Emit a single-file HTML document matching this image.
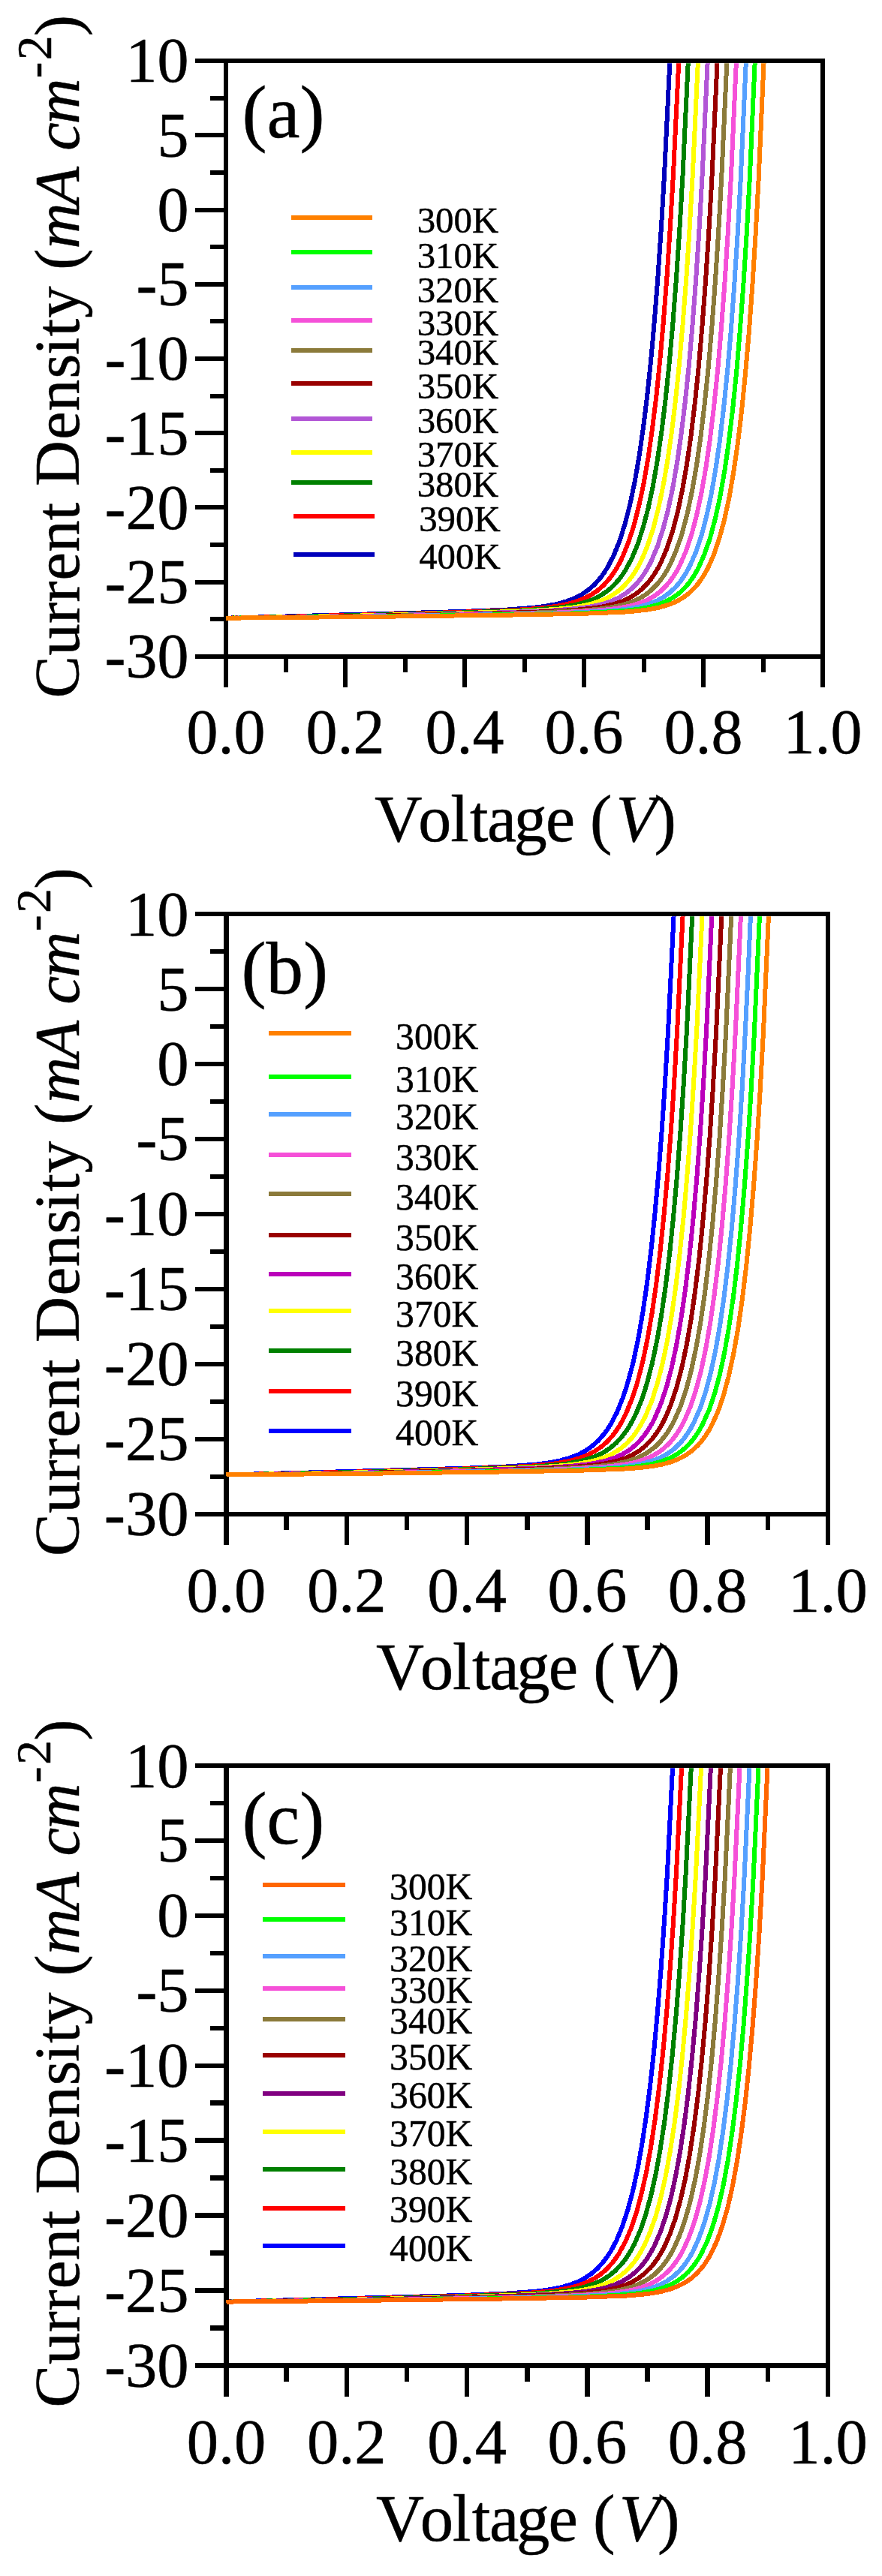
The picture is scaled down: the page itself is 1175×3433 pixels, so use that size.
<!DOCTYPE html>
<html><head><meta charset="utf-8"><style>
html,body{margin:0;padding:0;background:#fff;}
svg{display:block;}
text{font-family:"Liberation Serif", serif;fill:#000;stroke:#000;stroke-width:0.5px;stroke-linejoin:round;}
</style></head><body>
<svg width="1175" height="3433" viewBox="0 0 1175 3433">
<rect width="1175" height="3433" fill="#fff"/>
<path d="M260.02 81.20H1096.00V915.88M301.00 81.20V915.88M260.02 874.90H1096.00M260.02 180.41H301.00M260.02 279.62H301.00M260.02 378.84H301.00M260.02 478.05H301.00M260.02 577.26H301.00M260.02 676.48H301.00M260.02 775.69H301.00M280.01 130.81H301.00M280.01 230.02H301.00M280.01 329.23H301.00M280.01 428.44H301.00M280.01 527.66H301.00M280.01 626.87H301.00M280.01 726.08H301.00M280.01 825.29H301.00M460.00 874.90V915.88M619.00 874.90V915.88M778.00 874.90V915.88M937.00 874.90V915.88M380.50 874.90V895.89M539.50 874.90V895.89M698.50 874.90V895.89M857.50 874.90V895.89M1016.50 874.90V895.89" fill="none" stroke="#000" stroke-width="6.0" shape-rendering="crispEdges"/>
<clipPath id="clipa"><rect x="298.00" y="84.20" width="795.00" height="793.70"/></clipPath>
<g clip-path="url(#clipa)" fill="none" stroke-width="6" stroke-linejoin="round" stroke-linecap="butt" shape-rendering="crispEdges">
<path d="M301.0,823.7 619.0,814.9 675.4,812.6 711.2,809.8 727.9,807.6 742.0,804.9 754.2,801.5 765.3,797.3 775.2,792.1 784.0,786.0 792.3,778.7 799.9,770.1 804.6,763.6 809.2,756.4 817.6,740.2 825.4,720.9 832.6,698.3 839.3,672.1 845.6,642.3 851.5,607.9 857.0,569.8 862.3,526.7 867.3,478.6 872.0,425.8 876.6,366.9 881.0,301.8 885.1,231.6 892.9,71.3" stroke="#0000BB"/>
<path d="M301.0,823.7 481.6,819.5 608.3,816.0 680.9,813.2 703.9,811.9 722.5,810.3 739.1,808.2 753.6,805.5 765.8,802.3 777.0,798.1 787.1,793.0 796.0,787.0 804.2,779.8 811.6,771.5 816.3,765.2 821.0,758.0 825.4,750.2 829.6,741.6 837.4,722.2 844.5,700.1 851.2,674.3 857.5,644.4 863.4,610.6 868.9,572.4 874.2,529.5 879.2,480.5 884.0,426.9 888.6,367.4 892.9,301.8 897.0,231.6 904.8,71.3" stroke="#FF0000"/>
<path d="M301.0,823.7 473.2,820.2 598.7,817.1 686.8,813.9 713.6,812.4 734.3,810.8 751.3,808.8 765.6,806.3 778.0,803.1 789.2,799.1 799.3,794.1 808.4,788.2 816.4,781.3 824.0,773.0 828.6,767.0 833.2,760.0 841.7,744.1 849.5,725.4 856.8,702.8 863.7,676.6 870.0,647.0 875.9,612.9 881.4,574.8 886.7,531.4 891.8,482.4 896.5,429.6 901.0,370.8 905.4,305.1 909.5,234.2 917.3,71.3" stroke="#008000"/>
<path d="M301.0,823.7 475.6,820.6 605.0,817.6 695.4,814.5 724.7,813.0 746.5,811.4 763.7,809.4 778.3,807.0 790.8,803.9 802.0,800.1 812.0,795.4 821.2,789.5 829.3,782.8 836.9,774.7 841.8,768.5 846.4,761.5 850.8,754.0 855.0,745.7 863.0,726.5 870.2,704.4 876.9,678.5 883.3,648.4 889.2,614.7 894.7,576.7 900.0,533.3 905.0,484.3 909.8,429.6 914.3,371.1 918.6,305.1 922.7,234.2 930.4,71.3" stroke="#FFFF00"/>
<path d="M301.0,823.7 483.8,820.8 618.9,817.9 704.8,815.1 735.7,813.5 758.6,811.9 776.3,810.0 790.9,807.7 803.6,804.7 814.7,801.0 824.8,796.3 833.6,790.9 842.0,784.1 849.6,776.2 854.4,770.1 859.1,763.1 863.6,755.6 867.8,747.3 875.8,728.3 883.1,705.9 889.8,680.4 896.2,650.4 902.1,616.3 907.5,578.6 912.8,535.2 917.9,486.2 922.6,432.1 927.1,373.0 931.4,307.0 935.5,235.3 943.2,71.3" stroke="#B256D6"/>
<path d="M301.0,823.7 492.9,820.9 634.4,818.2 714.2,815.7 746.5,814.1 770.5,812.5 788.4,810.7 803.3,808.4 816.2,805.5 827.4,801.9 837.5,797.4 846.6,791.9 854.9,785.4 862.5,777.6 867.3,771.5 872.2,764.5 876.5,757.2 880.8,748.9 888.6,730.5 895.8,708.7 902.6,683.2 908.9,653.6 914.8,620.1 920.5,581.1 925.7,537.5 930.7,489.4 935.4,435.3 940.0,374.9 944.3,308.9 948.4,237.2 956.1,71.3" stroke="#990000"/>
<path d="M301.0,823.7 501.4,821.1 649.3,818.4 725.4,816.2 781.7,813.2 800.3,811.4 815.5,809.2 828.5,806.4 839.7,803.0 849.8,798.6 859.1,793.2 867.5,786.7 875.1,779.1 880.1,773.0 884.7,766.4 889.4,758.7 893.6,750.6 901.6,731.7 908.8,710.2 915.7,684.2 922.0,654.4 928.0,620.1 933.4,582.7 938.6,539.0 943.7,489.9 948.4,435.3 952.9,374.9 957.2,308.9 961.2,237.2 968.9,71.3" stroke="#8B7A3A"/>
<path d="M301.0,823.7 508.6,821.2 662.3,818.7 738.5,816.7 792.5,813.8 811.6,812.1 827.1,810.0 840.2,807.4 851.6,804.0 862.1,799.7 871.3,794.5 879.8,788.2 887.6,780.5 892.7,774.4 897.3,767.8 901.8,760.6 906.0,752.6 913.9,734.4 921.3,712.5 928.0,687.1 934.3,657.8 940.3,623.8 945.8,585.8 951.0,542.7 956.1,493.6 960.8,439.0 965.4,377.9 969.7,310.8 973.8,237.2 981.4,71.3" stroke="#F550D8"/>
<path d="M301.0,823.7 513.3,821.3 671.9,819.0 752.2,817.1 803.5,814.6 823.6,812.9 839.5,810.9 852.9,808.3 864.4,805.0 875.0,800.7 884.3,795.6 892.8,789.3 900.5,781.9 905.5,776.0 910.1,769.6 914.6,762.4 919.1,754.0 926.9,736.1 934.3,714.4 941.1,688.6 947.4,659.7 953.3,625.7 958.8,588.0 964.0,544.6 969.0,495.6 973.8,440.9 978.2,380.6 982.6,313.3 986.7,239.1 994.3,71.3" stroke="#55A0FF"/>
<path d="M301.0,823.7 516.5,821.5 678.4,819.2 765.6,817.4 815.6,815.2 835.4,813.6 851.4,811.6 864.7,809.1 876.3,805.9 886.7,801.8 896.1,796.7 904.6,790.6 912.4,783.3 917.4,777.4 922.1,770.9 926.6,763.8 930.9,755.8 938.7,738.1 946.2,716.2 952.8,691.6 959.3,661.6 965.3,627.8 970.8,589.5 976.1,545.5 981.2,495.6 985.8,440.9 990.3,380.6 994.6,313.3 998.7,239.1 1006.2,71.3" stroke="#00FF00"/>
<path d="M301.0,823.7 519.2,821.6 684.6,819.5 779.6,817.7 830.1,815.7 848.6,814.2 864.1,812.3 877.2,809.8 888.6,806.6 898.8,802.7 908.0,797.8 916.4,791.8 924.0,784.8 929.1,779.1 933.8,772.7 938.5,765.3 942.7,757.7 950.7,739.9 958.1,718.1 964.9,693.1 971.3,663.7 977.1,630.3 982.7,591.8 988.1,547.5 993.0,498.1 997.8,442.8 1002.2,382.6 1006.5,314.6 1010.5,241.0 1018.1,71.3" stroke="#FF8000"/>
</g>
<text x="251.52" y="109.49" font-size="83.97" text-anchor="end">10</text>
<text x="251.52" y="208.70" font-size="83.97" text-anchor="end">5</text>
<text x="251.52" y="307.91" font-size="83.97" text-anchor="end">0</text>
<text x="251.52" y="407.13" font-size="83.97" text-anchor="end">-5</text>
<text x="251.52" y="506.34" font-size="83.97" text-anchor="end">-10</text>
<text x="251.52" y="605.55" font-size="83.97" text-anchor="end">-15</text>
<text x="251.52" y="704.76" font-size="83.97" text-anchor="end">-20</text>
<text x="251.52" y="803.98" font-size="83.97" text-anchor="end">-25</text>
<text x="251.52" y="903.19" font-size="83.97" text-anchor="end">-30</text>
<text x="301.00" y="1004.35" font-size="83.97" text-anchor="middle">0.0</text>
<text x="460.00" y="1004.35" font-size="83.97" text-anchor="middle">0.2</text>
<text x="619.00" y="1004.35" font-size="83.97" text-anchor="middle">0.4</text>
<text x="778.00" y="1004.35" font-size="83.97" text-anchor="middle">0.6</text>
<text x="937.00" y="1004.35" font-size="83.97" text-anchor="middle">0.8</text>
<text x="1096.00" y="1004.35" font-size="83.97" text-anchor="middle">1.0</text>
<text y="1121.10" font-size="87.97"><tspan x="499.05 557.30 600.16 625.88 648.99 684.80 726.92 765.96 785.95">Voltage (</tspan><tspan font-style="italic" x="820.40">V</tspan><tspan x="871.45">)</tspan></text>
<g transform="translate(105.20 0) rotate(-90)"><text y="0" font-size="84.47"><tspan x="-930.51 -873.41 -831.11 -802.72 -773.48 -735.81 -693.32 -669.85 -648.12 -585.80 -547.88 -504.44 -473.12 -448.16 -423.70 -381.46 -359.71">Current Density (</tspan><tspan font-style="italic" x="-331.47 -273.82 -222.22 -200.70 -165.48">mA cm</tspan><tspan x="-48.19">)</tspan></text>
<text y="-37.19" font-size="64.98" x="-104.35 -79.99">-2</text></g>
<text x="322.60" y="182.60" font-size="99.00">(a)</text>
<path d="M388.0 289.8H496.0" stroke="#FF8000" stroke-width="6" shape-rendering="crispEdges"/>
<text x="555.7" y="309.7" font-size="48.8">300K</text>
<path d="M388.0 335.8H496.0" stroke="#00FF00" stroke-width="6" shape-rendering="crispEdges"/>
<text x="555.7" y="356.9" font-size="48.8">310K</text>
<path d="M388.0 383.0H496.0" stroke="#55A0FF" stroke-width="6" shape-rendering="crispEdges"/>
<text x="555.7" y="403.0" font-size="48.8">320K</text>
<path d="M388.0 426.9H496.0" stroke="#F550D8" stroke-width="6" shape-rendering="crispEdges"/>
<text x="555.7" y="446.5" font-size="48.8">330K</text>
<path d="M388.0 466.8H496.0" stroke="#8B7A3A" stroke-width="6" shape-rendering="crispEdges"/>
<text x="555.7" y="486.3" font-size="48.8">340K</text>
<path d="M388.0 511.4H496.0" stroke="#990000" stroke-width="6" shape-rendering="crispEdges"/>
<text x="555.7" y="530.7" font-size="48.8">350K</text>
<path d="M388.0 557.5H496.0" stroke="#B256D6" stroke-width="6" shape-rendering="crispEdges"/>
<text x="555.7" y="577.1" font-size="48.8">360K</text>
<path d="M388.0 602.5H496.0" stroke="#FFFF00" stroke-width="6" shape-rendering="crispEdges"/>
<text x="555.7" y="622.3" font-size="48.8">370K</text>
<path d="M388.0 642.8H496.0" stroke="#008000" stroke-width="6" shape-rendering="crispEdges"/>
<text x="555.7" y="662.3" font-size="48.8">380K</text>
<path d="M390.5 688.2H498.5" stroke="#FF0000" stroke-width="6" shape-rendering="crispEdges"/>
<text x="558.2" y="707.8" font-size="48.8">390K</text>
<path d="M390.5 739.0H498.5" stroke="#0000BB" stroke-width="6" shape-rendering="crispEdges"/>
<text x="558.2" y="758.3" font-size="48.8">400K</text>
<path d="M260.20 1218.00H1103.00V2059.20M301.50 1218.00V2059.20M260.20 2017.90H1103.00M260.20 1317.99H301.50M260.20 1417.97H301.50M260.20 1517.96H301.50M260.20 1617.95H301.50M260.20 1717.94H301.50M260.20 1817.93H301.50M260.20 1917.91H301.50M280.34 1267.99H301.50M280.34 1367.98H301.50M280.34 1467.97H301.50M280.34 1567.96H301.50M280.34 1667.94H301.50M280.34 1767.93H301.50M280.34 1867.92H301.50M280.34 1967.91H301.50M461.80 2017.90V2059.20M622.10 2017.90V2059.20M782.40 2017.90V2059.20M942.70 2017.90V2059.20M381.65 2017.90V2039.06M541.95 2017.90V2039.06M702.25 2017.90V2039.06M862.55 2017.90V2039.06M1022.85 2017.90V2039.06" fill="none" stroke="#000" stroke-width="6.5" shape-rendering="crispEdges"/>
<clipPath id="clipb"><rect x="298.25" y="1221.25" width="801.50" height="799.90"/></clipPath>
<g clip-path="url(#clipb)" fill="none" stroke-width="6" stroke-linejoin="round" stroke-linecap="butt" shape-rendering="crispEdges">
<path d="M301.5,1965.5 622.1,1956.7 679.0,1954.3 715.1,1951.5 731.9,1949.3 746.0,1946.6 758.4,1943.1 769.6,1938.9 779.4,1933.8 788.4,1927.6 796.8,1920.1 804.4,1911.5 809.3,1904.9 813.8,1897.7 822.3,1881.4 830.1,1861.9 837.4,1839.1 844.2,1812.7 850.5,1782.7 856.5,1748.0 862.1,1709.6 867.4,1666.2 872.4,1618.1 877.2,1564.9 881.8,1505.2 886.2,1439.6 890.3,1369.4 898.2,1208.0" stroke="#0000FF"/>
<path d="M301.5,1965.5 483.6,1961.3 611.3,1957.7 684.5,1954.9 707.7,1953.6 726.4,1952.0 743.2,1949.9 757.8,1947.2 770.1,1943.9 781.4,1939.7 791.5,1934.6 800.5,1928.5 808.8,1921.3 816.3,1912.9 821.1,1906.6 825.8,1899.3 830.1,1891.5 834.4,1882.7 842.3,1863.2 849.5,1841.0 856.2,1814.9 862.5,1784.8 868.5,1750.5 874.1,1712.2 879.3,1669.4 884.5,1619.6 889.3,1565.6 893.9,1506.1 898.2,1441.5 902.3,1370.0 910.2,1208.0" stroke="#FF0000"/>
<path d="M301.5,1965.5 475.1,1962.0 601.6,1958.8 690.4,1955.6 717.5,1954.2 738.4,1952.5 755.5,1950.5 769.8,1947.9 782.4,1944.7 793.7,1940.7 803.9,1935.7 813.0,1929.7 821.1,1922.8 828.8,1914.4 833.4,1908.3 838.1,1901.3 842.5,1893.5 846.7,1885.3 854.5,1866.5 861.9,1843.7 868.7,1817.4 875.1,1787.4 881.1,1753.0 886.6,1714.9 892.0,1671.3 897.1,1621.9 901.8,1568.7 906.4,1509.0 910.8,1443.4 915.0,1371.4 922.8,1208.0" stroke="#008000"/>
<path d="M301.5,1965.5 477.5,1962.4 608.0,1959.4 699.1,1956.2 728.6,1954.7 750.6,1953.1 768.0,1951.1 782.7,1948.7 795.3,1945.6 806.6,1941.7 816.7,1936.9 825.9,1931.1 834.1,1924.3 841.8,1916.2 846.7,1909.8 851.3,1902.9 855.8,1895.2 860.0,1886.9 868.1,1867.5 875.3,1845.3 882.1,1819.3 888.4,1789.7 894.4,1755.5 900.0,1716.8 905.3,1673.2 910.4,1624.2 915.1,1570.6 919.8,1509.9 924.1,1443.4 928.3,1371.4 936.1,1208.0" stroke="#FFFF00"/>
<path d="M301.5,1965.5 485.8,1962.6 622.0,1959.7 708.6,1956.8 739.7,1955.3 762.9,1953.6 780.7,1951.7 795.4,1949.3 808.2,1946.3 819.4,1942.6 829.5,1937.9 838.5,1932.4 846.9,1925.6 854.6,1917.6 859.4,1911.5 864.2,1904.5 868.7,1896.9 872.9,1888.5 880.9,1869.6 888.1,1847.7 895.0,1821.5 901.3,1791.9 907.3,1757.6 913.0,1718.7 918.3,1675.1 923.4,1625.7 928.1,1572.0 932.7,1511.8 937.0,1445.9 941.1,1373.2 948.9,1208.0" stroke="#BB00BB"/>
<path d="M301.5,1965.5 495.0,1962.7 637.6,1960.0 718.1,1957.4 750.6,1955.8 774.9,1954.2 792.9,1952.4 807.9,1950.1 820.9,1947.2 832.2,1943.5 842.3,1939.0 851.6,1933.5 859.9,1926.9 867.6,1919.0 872.5,1912.9 877.3,1905.9 881.7,1898.5 886.1,1890.1 893.9,1871.6 901.4,1848.9 908.2,1823.1 914.6,1792.9 920.6,1758.6 926.0,1721.0 931.4,1677.1 936.3,1628.6 941.1,1574.4 945.7,1513.7 950.0,1447.2 954.1,1375.1 961.9,1208.0" stroke="#990000"/>
<path d="M301.5,1965.5 503.6,1962.9 652.7,1960.2 729.4,1958.0 786.1,1954.9 804.9,1953.1 820.2,1950.9 833.3,1948.1 844.6,1944.6 854.8,1940.2 864.1,1934.8 872.7,1928.2 880.3,1920.5 885.3,1914.4 890.0,1907.8 894.3,1900.6 898.7,1892.3 906.8,1873.6 914.2,1851.5 921.0,1825.7 927.3,1796.3 933.3,1762.4 938.9,1723.9 944.1,1680.5 949.2,1631.4 954.0,1576.3 958.6,1515.6 962.9,1449.1 967.1,1375.1 974.8,1208.0" stroke="#8B7A3A"/>
<path d="M301.5,1965.5 510.5,1963.0 665.5,1960.4 742.4,1958.4 796.8,1955.6 816.3,1953.8 831.9,1951.7 845.1,1949.1 856.6,1945.7 867.2,1941.3 876.4,1936.1 885.0,1929.7 892.8,1922.1 897.7,1916.2 902.6,1909.4 907.2,1901.9 911.5,1893.8 919.4,1875.5 926.8,1853.5 933.7,1827.9 940.0,1798.4 946.0,1764.3 951.6,1725.8 957.0,1681.4 961.9,1632.8 966.7,1578.2 971.3,1516.2 975.6,1449.1 979.8,1375.1 987.5,1208.0" stroke="#F550D8"/>
<path d="M301.5,1965.5 515.6,1963.1 675.4,1960.7 756.4,1958.8 808.1,1956.3 828.2,1954.6 844.1,1952.6 857.6,1950.0 869.2,1946.7 879.8,1942.6 889.3,1937.3 897.9,1931.1 905.8,1923.5 910.8,1917.6 915.5,1911.1 920.1,1903.8 924.3,1895.9 932.4,1877.4 939.9,1855.4 946.9,1829.4 953.1,1800.4 959.1,1766.2 964.6,1728.2 969.9,1684.5 975.0,1635.2 979.7,1580.1 984.3,1519.4 988.6,1452.1 992.7,1377.9 996.6,1297.2 1000.5,1208.0" stroke="#55A0FF"/>
<path d="M301.5,1965.5 518.4,1963.3 681.6,1961.0 769.7,1959.2 820.1,1957.0 840.1,1955.3 856.1,1953.3 869.7,1950.8 881.3,1947.6 891.7,1943.5 901.3,1938.4 910.0,1932.1 917.7,1925.0 922.8,1919.0 927.6,1912.5 932.2,1905.2 936.4,1897.3 944.5,1879.2 951.9,1857.5 958.7,1832.4 965.2,1802.5 971.2,1768.1 976.7,1730.1 982.0,1686.4 987.0,1636.7 991.8,1581.2 996.4,1519.4 1000.7,1452.1 1004.8,1377.9 1012.5,1208.0" stroke="#00FF00"/>
<path d="M301.5,1965.5 521.5,1963.4 688.2,1961.2 784.0,1959.4 834.9,1957.4 853.6,1955.9 869.2,1954.0 882.4,1951.5 893.9,1948.3 904.2,1944.3 913.5,1939.4 921.9,1933.4 929.6,1926.3 934.7,1920.5 939.5,1914.1 943.9,1907.2 948.4,1899.1 956.5,1881.0 964.0,1859.2 970.8,1833.9 977.2,1804.3 983.2,1770.6 988.8,1731.9 994.2,1687.1 999.2,1637.4 1003.9,1582.0 1008.4,1521.3 1012.7,1452.9 1016.8,1378.6 1024.5,1208.0" stroke="#FF8000"/>
</g>
<text x="251.63" y="1246.51" font-size="84.62" text-anchor="end">10</text>
<text x="251.63" y="1346.50" font-size="84.62" text-anchor="end">5</text>
<text x="251.63" y="1446.49" font-size="84.62" text-anchor="end">0</text>
<text x="251.63" y="1546.47" font-size="84.62" text-anchor="end">-5</text>
<text x="251.63" y="1646.46" font-size="84.62" text-anchor="end">-10</text>
<text x="251.63" y="1746.45" font-size="84.62" text-anchor="end">-15</text>
<text x="251.63" y="1846.44" font-size="84.62" text-anchor="end">-20</text>
<text x="251.63" y="1946.42" font-size="84.62" text-anchor="end">-25</text>
<text x="251.63" y="2046.41" font-size="84.62" text-anchor="end">-30</text>
<text x="301.50" y="2148.36" font-size="84.62" text-anchor="middle">0.0</text>
<text x="461.80" y="2148.36" font-size="84.62" text-anchor="middle">0.2</text>
<text x="622.10" y="2148.36" font-size="84.62" text-anchor="middle">0.4</text>
<text x="782.40" y="2148.36" font-size="84.62" text-anchor="middle">0.6</text>
<text x="942.70" y="2148.36" font-size="84.62" text-anchor="middle">0.8</text>
<text x="1103.00" y="2148.36" font-size="84.62" text-anchor="middle">1.0</text>
<text y="2250.70" font-size="88.65"><tspan x="501.10 559.81 603.00 628.92 652.21 688.30 730.74 770.09 790.24">Voltage (</tspan><tspan font-style="italic" x="824.95">V</tspan><tspan x="876.40">)</tspan></text>
<g transform="translate(104.60 0) rotate(-90)"><text y="0" font-size="85.13"><tspan x="-2073.95 -2016.40 -1973.77 -1945.16 -1915.68 -1877.72 -1834.90 -1811.25 -1789.35 -1726.54 -1688.32 -1644.54 -1612.98 -1587.83 -1563.17 -1520.61 -1498.69">Current Density (</tspan><tspan font-style="italic" x="-1470.22 -1412.12 -1360.12 -1338.44 -1302.94">mA cm</tspan><tspan x="-1184.73">)</tspan></text>
<text y="-37.48" font-size="65.48" x="-1241.33 -1216.78">-2</text></g>
<text x="321.60" y="1324.00" font-size="99.00">(b)</text>
<path d="M358.1 1377.4H467.7" stroke="#FF8000" stroke-width="6" shape-rendering="crispEdges"/>
<text x="527.1" y="1397.7" font-size="49.6">300K</text>
<path d="M358.1 1435.1H467.7" stroke="#00FF00" stroke-width="6" shape-rendering="crispEdges"/>
<text x="527.1" y="1454.7" font-size="49.6">310K</text>
<path d="M358.1 1484.8H467.7" stroke="#55A0FF" stroke-width="6" shape-rendering="crispEdges"/>
<text x="527.1" y="1504.8" font-size="49.6">320K</text>
<path d="M358.1 1538.5H467.7" stroke="#F550D8" stroke-width="6" shape-rendering="crispEdges"/>
<text x="527.1" y="1558.5" font-size="49.6">330K</text>
<path d="M358.1 1590.8H467.7" stroke="#8B7A3A" stroke-width="6" shape-rendering="crispEdges"/>
<text x="527.1" y="1611.8" font-size="49.6">340K</text>
<path d="M358.1 1645.9H467.7" stroke="#990000" stroke-width="6" shape-rendering="crispEdges"/>
<text x="527.1" y="1666.3" font-size="49.6">350K</text>
<path d="M358.1 1697.8H467.7" stroke="#BB00BB" stroke-width="6" shape-rendering="crispEdges"/>
<text x="527.1" y="1717.8" font-size="49.6">360K</text>
<path d="M358.1 1747.2H467.7" stroke="#FFFF00" stroke-width="6" shape-rendering="crispEdges"/>
<text x="527.1" y="1767.8" font-size="49.6">370K</text>
<path d="M358.1 1799.8H467.7" stroke="#008000" stroke-width="6" shape-rendering="crispEdges"/>
<text x="527.1" y="1819.7" font-size="49.6">380K</text>
<path d="M358.1 1853.8H467.7" stroke="#FF0000" stroke-width="6" shape-rendering="crispEdges"/>
<text x="527.1" y="1874.2" font-size="49.6">390K</text>
<path d="M358.1 1906.8H467.7" stroke="#0000FF" stroke-width="6" shape-rendering="crispEdges"/>
<text x="527.1" y="1925.7" font-size="49.6">400K</text>
<path d="M260.22 2353.00H1103.00V3193.78M301.50 2353.00V3193.78M260.22 3152.50H1103.00M260.22 2452.94H301.50M260.22 2552.88H301.50M260.22 2652.81H301.50M260.22 2752.75H301.50M260.22 2852.69H301.50M260.22 2952.62H301.50M260.22 3052.56H301.50M280.35 2402.97H301.50M280.35 2502.91H301.50M280.35 2602.84H301.50M280.35 2702.78H301.50M280.35 2802.72H301.50M280.35 2902.66H301.50M280.35 3002.59H301.50M280.35 3102.53H301.50M461.80 3152.50V3193.78M622.10 3152.50V3193.78M782.40 3152.50V3193.78M942.70 3152.50V3193.78M381.65 3152.50V3173.65M541.95 3152.50V3173.65M702.25 3152.50V3173.65M862.55 3152.50V3173.65M1022.85 3152.50V3173.65" fill="none" stroke="#000" stroke-width="6.5" shape-rendering="crispEdges"/>
<clipPath id="clipc"><rect x="298.25" y="2356.25" width="801.50" height="799.50"/></clipPath>
<g clip-path="url(#clipc)" fill="none" stroke-width="6" stroke-linejoin="round" stroke-linecap="butt" shape-rendering="crispEdges">
<path d="M301.5,3067.6 620.5,3058.8 677.4,3056.4 713.8,3053.7 730.3,3051.6 744.7,3048.9 757.2,3045.6 768.3,3041.5 778.3,3036.5 787.3,3030.5 795.6,3023.4 803.2,3015.1 808.0,3008.7 812.5,3002.1 816.9,2994.4 821.2,2985.9 828.9,2967.5 836.1,2945.8 842.9,2920.5 849.2,2891.8 855.1,2858.7 860.6,2822.4 866.0,2780.7 871.0,2735.0 875.8,2683.4 880.4,2626.3 884.7,2564.6 888.9,2497.4 896.7,2343.0" stroke="#0000FF"/>
<path d="M301.5,3067.6 481.1,3063.4 608.3,3059.9 682.2,3057.1 706.0,3055.7 724.9,3054.2 741.6,3052.2 756.2,3049.6 768.8,3046.4 779.9,3042.4 790.0,3037.5 799.0,3031.7 807.2,3024.9 814.9,3016.7 819.8,3010.4 824.4,3003.6 832.8,2988.2 840.8,2969.5 848.1,2947.7 854.9,2922.4 861.2,2894.0 866.9,2862.4 872.6,2824.8 877.9,2783.6 883.0,2737.1 887.9,2684.4 892.4,2628.1 896.7,2566.4 900.9,2497.4 908.7,2343.0" stroke="#FF0000"/>
<path d="M301.5,3067.6 472.7,3064.1 598.9,3060.9 688.3,3057.8 715.7,3056.3 736.6,3054.7 753.8,3052.8 768.4,3050.3 780.9,3047.2 792.1,3043.4 802.0,3038.8 811.2,3033.1 819.5,3026.3 827.3,3018.3 831.9,3012.5 836.5,3005.8 840.9,2998.6 845.3,2990.3 853.3,2971.7 860.5,2950.4 867.4,2925.3 873.7,2897.0 879.5,2864.8 885.2,2827.9 890.5,2786.0 895.7,2738.9 900.6,2686.2 905.1,2629.9 909.4,2566.9 913.5,2499.2 921.4,2343.0" stroke="#008000"/>
<path d="M301.5,3067.6 476.3,3064.5 606.5,3061.5 697.5,3058.4 727.0,3056.9 749.3,3055.2 766.6,3053.4 781.3,3051.0 794.3,3047.9 805.4,3044.3 815.5,3039.7 824.5,3034.2 832.7,3027.6 840.6,3019.7 845.5,3013.6 850.0,3007.0 854.6,2999.4 858.8,2991.4 866.7,2973.2 874.0,2951.8 880.8,2926.9 887.1,2898.4 893.0,2866.0 898.7,2828.8 904.0,2787.3 909.0,2740.7 913.8,2688.4 918.3,2631.7 922.7,2568.2 926.9,2499.2 934.7,2343.0" stroke="#FFFF00"/>
<path d="M301.5,3067.6 484.4,3064.6 620.3,3061.8 706.4,3058.9 737.9,3057.4 761.4,3055.8 779.2,3054.0 793.8,3051.7 806.7,3048.8 818.0,3045.2 828.2,3040.7 837.4,3035.2 845.8,3028.7 853.4,3021.1 858.3,3015.1 862.9,3008.6 867.3,3001.3 871.7,2993.1 879.6,2975.0 887.0,2953.6 893.9,2928.4 900.0,2900.5 906.0,2867.8 911.6,2831.0 916.9,2789.3 921.9,2742.5 926.8,2689.9 931.2,2633.6 935.6,2570.0 939.8,2501.0 947.5,2343.0" stroke="#800080"/>
<path d="M301.5,3067.6 493.8,3064.8 636.1,3062.0 716.2,3059.5 748.9,3058.0 773.3,3056.4 791.5,3054.6 806.6,3052.4 819.3,3049.7 830.7,3046.2 841.0,3041.8 850.2,3036.5 858.5,3030.1 866.2,3022.6 871.1,3016.8 875.7,3010.4 880.1,3003.3 884.6,2995.2 892.6,2977.1 899.9,2956.0 906.7,2931.3 913.1,2902.7 919.0,2870.2 924.6,2833.3 930.0,2791.6 935.0,2744.3 939.8,2692.7 944.3,2634.9 948.6,2571.8 952.8,2502.0 960.6,2343.0" stroke="#990000"/>
<path d="M301.5,3067.6 502.2,3064.9 650.9,3062.3 727.6,3060.1 784.4,3057.1 803.2,3055.3 818.5,3053.2 831.6,3050.6 843.0,3047.2 853.5,3042.9 862.8,3037.8 871.3,3031.5 879.0,3024.1 883.9,3018.3 888.6,3011.9 893.2,3004.6 897.5,2996.8 905.6,2978.6 913.0,2957.4 919.7,2933.0 926.2,2904.1 932.1,2871.7 937.6,2835.1 942.9,2793.4 948.0,2746.2 952.8,2693.5 957.3,2635.4 961.6,2571.8 965.8,2502.0 973.5,2343.0" stroke="#8B7A3A"/>
<path d="M301.5,3067.6 508.9,3065.1 663.3,3062.5 740.5,3060.5 795.0,3057.8 814.6,3056.1 830.4,3054.0 843.7,3051.5 855.2,3048.2 865.7,3044.1 875.1,3039.0 883.8,3032.8 891.6,3025.5 896.6,3019.7 901.4,3013.2 905.8,3006.4 910.1,2998.6 918.3,2980.4 925.6,2959.6 932.4,2935.0 938.8,2906.4 944.8,2874.0 950.3,2837.1 955.6,2795.2 960.7,2748.0 965.5,2695.3 970.0,2637.2 974.3,2573.5 978.4,2503.3 986.1,2343.0" stroke="#F550D8"/>
<path d="M301.5,3067.6 513.4,3065.2 672.1,3062.8 754.2,3060.9 806.1,3058.5 826.4,3056.9 842.4,3054.9 856.0,3052.4 867.7,3049.3 878.5,3045.2 888.0,3040.2 896.6,3034.2 904.4,3027.0 909.5,3021.4 914.2,3015.1 918.7,3008.2 923.1,3000.4 931.0,2983.1 938.5,2961.9 945.4,2937.4 951.8,2908.9 957.8,2876.2 963.3,2839.8 968.6,2798.1 973.7,2750.5 978.4,2698.3 983.0,2639.6 987.3,2575.5 991.4,2504.6 999.1,2343.0" stroke="#55A0FF"/>
<path d="M301.5,3067.6 516.5,3065.3 678.6,3063.1 767.7,3061.3 818.5,3059.1 838.5,3057.5 854.6,3055.6 868.2,3053.2 879.8,3050.1 890.4,3046.2 900.0,3041.3 908.5,3035.5 916.4,3028.4 921.5,3022.6 926.2,3016.5 930.9,3009.5 935.0,3002.1 943.1,2984.8 950.5,2964.0 957.4,2939.6 963.8,2911.4 969.8,2878.7 975.3,2842.4 980.6,2800.6 985.8,2752.2 990.6,2698.9 995.0,2640.8 999.4,2575.5 1003.5,2504.6 1011.1,2343.0" stroke="#00FF00"/>
<path d="M301.5,3067.6 519.7,3065.4 685.4,3063.3 782.4,3061.5 833.6,3059.6 852.3,3058.1 867.8,3056.3 881.1,3053.8 892.6,3050.8 903.0,3046.9 912.3,3042.2 920.7,3036.5 928.4,3029.6 933.5,3024.1 938.3,3017.9 942.9,3010.9 947.3,3003.3 955.4,2985.9 962.7,2965.3 969.6,2941.2 976.0,2912.9 981.9,2880.6 987.4,2844.2 992.8,2801.6 997.8,2754.2 1002.5,2701.6 1007.1,2642.6 1011.4,2577.3 1015.5,2506.4 1023.1,2343.0" stroke="#FF6600"/>
</g>
<text x="251.66" y="2381.50" font-size="84.58" text-anchor="end">10</text>
<text x="251.66" y="2481.43" font-size="84.58" text-anchor="end">5</text>
<text x="251.66" y="2581.37" font-size="84.58" text-anchor="end">0</text>
<text x="251.66" y="2681.31" font-size="84.58" text-anchor="end">-5</text>
<text x="251.66" y="2781.25" font-size="84.58" text-anchor="end">-10</text>
<text x="251.66" y="2881.18" font-size="84.58" text-anchor="end">-15</text>
<text x="251.66" y="2981.12" font-size="84.58" text-anchor="end">-20</text>
<text x="251.66" y="3081.06" font-size="84.58" text-anchor="end">-25</text>
<text x="251.66" y="3181.00" font-size="84.58" text-anchor="end">-30</text>
<text x="301.50" y="3282.90" font-size="84.58" text-anchor="middle">0.0</text>
<text x="461.80" y="3282.90" font-size="84.58" text-anchor="middle">0.2</text>
<text x="622.10" y="3282.90" font-size="84.58" text-anchor="middle">0.4</text>
<text x="782.40" y="3282.90" font-size="84.58" text-anchor="middle">0.6</text>
<text x="942.70" y="3282.90" font-size="84.58" text-anchor="middle">0.8</text>
<text x="1103.00" y="3282.90" font-size="84.58" text-anchor="middle">1.0</text>
<text y="3385.50" font-size="88.61"><tspan x="501.00 559.68 602.85 628.75 652.04 688.11 730.53 769.86 789.99">Voltage (</tspan><tspan font-style="italic" x="824.69">V</tspan><tspan x="876.12">)</tspan></text>
<g transform="translate(104.60 0) rotate(-90)"><text y="0" font-size="85.09"><tspan x="-3208.52 -3151.00 -3108.39 -3079.79 -3050.34 -3012.39 -2969.60 -2945.96 -2924.07 -2861.28 -2823.09 -2779.33 -2747.79 -2722.65 -2698.00 -2655.46 -2633.54">Current Density (</tspan><tspan font-style="italic" x="-2605.10 -2547.03 -2495.05 -2473.38 -2437.90">mA cm</tspan><tspan x="-2319.75">)</tspan></text>
<text y="-37.46" font-size="65.45" x="-2376.31 -2351.78">-2</text></g>
<text x="322.40" y="2456.70" font-size="99.00">(c)</text>
<path d="M350.2 2511.8H459.7" stroke="#FF6600" stroke-width="6" shape-rendering="crispEdges"/>
<text x="519.1" y="2531.4" font-size="49.6">300K</text>
<path d="M350.2 2557.9H459.7" stroke="#00FF00" stroke-width="6" shape-rendering="crispEdges"/>
<text x="519.1" y="2578.5" font-size="49.6">310K</text>
<path d="M350.2 2606.8H459.7" stroke="#55A0FF" stroke-width="6" shape-rendering="crispEdges"/>
<text x="519.1" y="2626.8" font-size="49.6">320K</text>
<path d="M350.2 2649.7H459.7" stroke="#F550D8" stroke-width="6" shape-rendering="crispEdges"/>
<text x="519.1" y="2669.3" font-size="49.6">330K</text>
<path d="M350.2 2690.7H459.7" stroke="#8B7A3A" stroke-width="6" shape-rendering="crispEdges"/>
<text x="519.1" y="2710.3" font-size="49.6">340K</text>
<path d="M350.2 2738.9H459.7" stroke="#990000" stroke-width="6" shape-rendering="crispEdges"/>
<text x="519.1" y="2758.1" font-size="49.6">350K</text>
<path d="M350.2 2789.7H459.7" stroke="#800080" stroke-width="6" shape-rendering="crispEdges"/>
<text x="519.1" y="2808.9" font-size="49.6">360K</text>
<path d="M350.2 2840.9H459.7" stroke="#FFFF00" stroke-width="6" shape-rendering="crispEdges"/>
<text x="519.1" y="2859.7" font-size="49.6">370K</text>
<path d="M350.2 2891.3H459.7" stroke="#008000" stroke-width="6" shape-rendering="crispEdges"/>
<text x="519.1" y="2910.5" font-size="49.6">380K</text>
<path d="M350.2 2942.5H459.7" stroke="#FF0000" stroke-width="6" shape-rendering="crispEdges"/>
<text x="519.1" y="2961.3" font-size="49.6">390K</text>
<path d="M350.2 2992.9H459.7" stroke="#0000FF" stroke-width="6" shape-rendering="crispEdges"/>
<text x="519.1" y="3012.9" font-size="49.6">400K</text>
</svg>
</body></html>
